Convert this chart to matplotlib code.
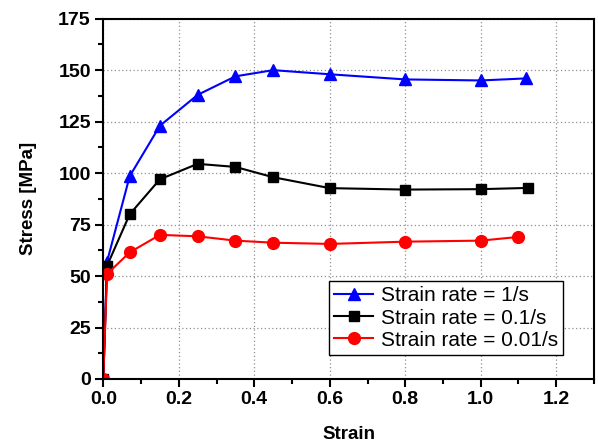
import matplotlib.pyplot as plt
from matplotlib.ticker import MultipleLocator

plt.rcParams['font.family'] = ['Liberation Sans', 'DejaVu Sans']

# strain values for each series
strain_1 = [0.0, 0.01, 0.07, 0.15, 0.25, 0.35, 0.45, 0.60, 0.80, 1.00, 1.12]
stress_1 = [0.0, 57.0, 98.5, 123.0, 138.0, 147.0, 150.0, 148.0, 145.5, 145.0, 146.0]

strain_01 = [0.0, 0.01, 0.07, 0.15, 0.25, 0.35, 0.45, 0.60, 0.80, 1.00, 1.125]
stress_01 = [0.0, 55.0, 80.0, 97.0, 104.5, 103.0, 98.0, 92.7, 92.0, 92.2, 92.8]

strain_001 = [0.0, 0.01, 0.07, 0.15, 0.25, 0.35, 0.45, 0.60, 0.80, 1.00, 1.10]
stress_001 = [0.0, 51.0, 61.5, 70.0, 69.3, 67.2, 66.2, 65.6, 66.7, 67.2, 69.0]

labels = ['Strain rate = 1/s', 'Strain rate = 0.1/s', 'Strain rate = 0.01/s']

fig = plt.figure(figsize=(5.98, 4.43), dpi=100)
ax = fig.add_axes([0.1727, 0.1445, 0.8206, 0.8133])

ax.plot(strain_1, stress_1, color='blue', marker='^', markersize=9, lw=1.5, label=labels[0])
ax.plot(strain_01, stress_01, color='black', marker='s', markersize=7.5, lw=1.5, label=labels[1])
ax.plot(strain_001, stress_001, color='red', marker='o', markersize=8.5, lw=1.5, label=labels[2])

ax.set_xlim(0, 1.3)
ax.set_ylim(0, 175)
ax.xaxis.set_major_locator(MultipleLocator(0.2))
ax.xaxis.set_minor_locator(MultipleLocator(0.1))
ax.yaxis.set_major_locator(MultipleLocator(25))
ax.yaxis.set_minor_locator(MultipleLocator(12.5))
ax.xaxis.set_major_formatter(plt.FuncFormatter(lambda v, p: f'{v:.1f}'))

ax.grid(True, which='major', linestyle=(0, (1, 2)), color='#909090', linewidth=0.9)
ax.tick_params(which='major', direction='out', length=6, width=1.5, labelsize=14, pad=3)
ax.tick_params(which='minor', direction='out', length=3.5, width=1.5)
for lab in ax.get_xticklabels() + ax.get_yticklabels():
    lab.set_fontweight('bold')
for s in ax.spines.values():
    s.set_linewidth(1.5)

ax.set_xlabel('Strain', fontsize=13.5, fontweight='bold', labelpad=12.5)
ax.set_ylabel('Stress [MPa]', fontsize=13.5, fontweight='bold', labelpad=15)

leg = ax.legend(loc='lower right', bbox_to_anchor=(0.937, 0.067), fontsize=15,
                fancybox=False, edgecolor='black', framealpha=1,
                handlelength=1.9, borderpad=0.25, labelspacing=0.15,
                handletextpad=0.35, borderaxespad=0)
leg.get_frame().set_linewidth(1)

fig.savefig('out.png', dpi=100)
